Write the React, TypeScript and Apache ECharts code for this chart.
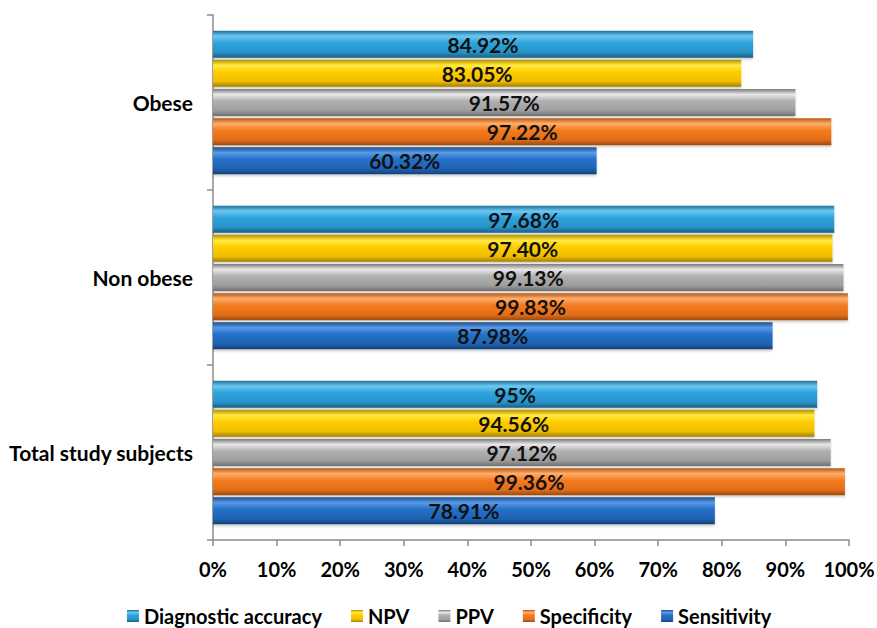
import React, { useEffect, useRef } from "react";
import * as echarts from "echarts";

const categories = ["Total study subjects", "Non obese", "Obese"];
const seriesNames = ["Diagnostic accuracy", "NPV", "PPV", "Specificity", "Sensitivity"];
const legendOrder = ["Diagnostic accuracy", "NPV", "PPV", "Specificity", "Sensitivity"];
const diagnosticAccuracy = [95, 97.68, 84.92];
const npv = [94.56, 97.4, 83.05];
const ppv = [97.12, 99.13, 91.57];
const specificity = [99.36, 99.83, 97.22];
const sensitivity = [78.91, 87.98, 60.32];
const diagnosticAccuracyLabels = ["95%", "97.68%", "84.92%"];
const npvLabels = ["94.56%", "97.40%", "83.05%"];
const ppvLabels = ["97.12%", "99.13%", "91.57%"];
const specificityLabels = ["99.36%", "99.83%", "97.22%"];
const sensitivityLabels = ["78.91%", "87.98%", "60.32%"];

const palettes: Record<string, string[]> = {
  Sensitivity: ["#1b4f8f", "#5a9ae6", "#2470c8", "#1f63b4", "#163f73"],
  Specificity: ["#b45512", "#ffae6a", "#f47b20", "#e26e18", "#9c4a10"],
  PPV: ["#7a7a7a", "#e8e8e8", "#b0b0b0", "#9e9e9e", "#6e6e6e"],
  NPV: ["#b38f00", "#ffea40", "#ffcc00", "#f0bd00", "#a07e00"],
  "Diagnostic accuracy": ["#1d6f99", "#6cc8f2", "#2ea3dc", "#2893c8", "#195f83"],
};

function grad(name: string) {
  const c = palettes[name];
  return new echarts.graphic.LinearGradient(0, 0, 0, 1, [
    { offset: 0, color: c[0] },
    { offset: 0.2, color: c[1] },
    { offset: 0.45, color: c[2] },
    { offset: 0.8, color: c[3] },
    { offset: 1, color: c[4] },
  ]);
}

export default function App() {
  const ref = useRef<HTMLDivElement>(null);
  useEffect(() => {
    if (!ref.current) return;
    const chart = echarts.init(ref.current, undefined, { renderer: "svg" });
    const values = [diagnosticAccuracy, npv, ppv, specificity, sensitivity];
    const labels = [diagnosticAccuracyLabels, npvLabels, ppvLabels, specificityLabels, sensitivityLabels];
    const font = "Lato, 'Open Sans', sans-serif";
    chart.setOption({
      animation: false,
      grid: { left: 213, right: 28, top: 15, bottom: 88, containLabel: false, outerBoundsMode: "none" },
      legend: {
        data: legendOrder,
        top: 601,
        left: 122,
        icon: "rect",
        itemWidth: 12,
        itemHeight: 12,
        itemGap: 29,
        textStyle: { fontFamily: font, fontWeight: "bold", fontSize: 20, color: "#000" },
      },
      xAxis: {
        type: "value",
        min: 0,
        max: 100,
        interval: 10,
        axisLine: { show: true, lineStyle: { color: "#8c8c8c", width: 1.5 } },
        axisTick: { show: true, length: 6, lineStyle: { color: "#8c8c8c", width: 1.5 } },
        splitLine: { show: false },
        axisLabel: {
          formatter: (v: number) => v + "%",
          fontFamily: font,
          fontWeight: "bold",
          fontSize: 20,
          color: "#000",
          margin: 19,
        },
      },
      yAxis: {
        type: "category",
        data: categories,
        axisLine: { show: true, lineStyle: { color: "#8c8c8c", width: 1.5 } },
        axisTick: { show: true, length: 6, lineStyle: { color: "#8c8c8c", width: 1.5 } },
        axisLabel: {
          fontFamily: font,
          fontWeight: "bold",
          fontSize: 21,
          color: "#000",
          margin: 20,
        },
      },
      series: seriesNames.map((name, i) => ({
        name,
        type: "bar",
        data: values[i],
        barWidth: 27,
        barGap: "8%",
        itemStyle: {
          color: grad(name),
          shadowColor: "rgba(0,0,0,0.18)",
          shadowOffsetY: 2,
          shadowBlur: 2,
        },
        label: {
          show: true,
          position: "inside",
          formatter: (p: any) => labels[i][p.dataIndex],
          fontFamily: font,
          fontWeight: "bold",
          fontSize: 21,
          color: "#111",
        },
      })),
    });
    return () => chart.dispose();
  }, []);
  return (
    <div
      ref={ref}
      style={{ position: "absolute", left: 0, top: 0, width: 877, height: 628 }}
    />
  );
}
